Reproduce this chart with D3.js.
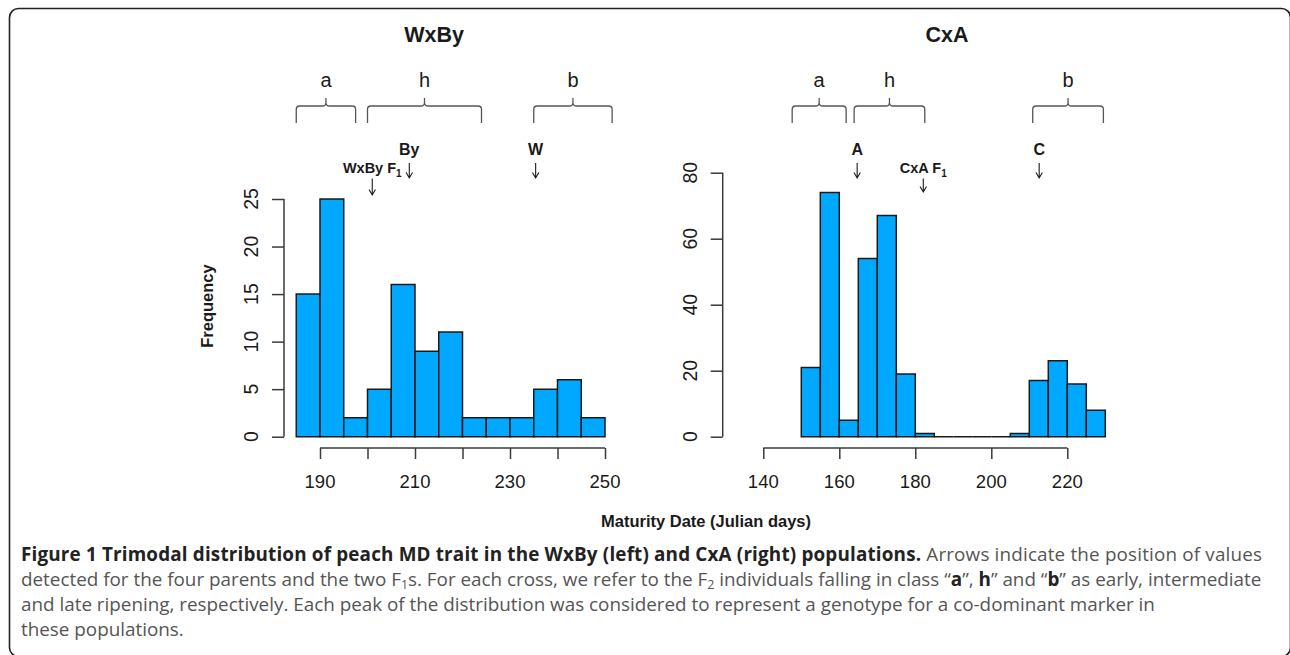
<!DOCTYPE html>
<html><head><meta charset="utf-8">
<script src="https://cdn.jsdelivr.net/npm/d3@7"></script>
<style>
html,body{margin:0;padding:0;background:#fff;}
svg{display:block;}
</style></head>
<body>
<svg id="fig" width="1290" height="655"></svg>
<script>
// ---------------- DATA ----------------
const wxbyBinStarts = [185,190,195,200,205,210,215,220,225,230,235,240,245];
const wxbyCounts    = [15,25,2,5,16,9,11,2,2,2,5,6,2];
const cxaBinStarts  = [150,155,160,165,170,175,180,185,190,195,200,205,210,215,220,225];
const cxaCounts     = [21,74,5,54,67,19,1,0,0,0,0,1,17,23,16,8];
const binWidth = 5;

const wxbyXTicks  = [190,200,210,220,230,240,250];
const wxbyXLabels = [190,210,230,250];
const cxaXTicks   = [140,160,180,200,220];
const cxaXLabels  = [140,160,180,200,220];
const wxbyYTicks  = [0,5,10,15,20,25];
const cxaYTicks   = [0,20,40,60,80];

const classLabels   = ["a","h","b"];
const wxbyClassFrom = [185,200,235];
const wxbyClassTo   = [197.5,224,251.5];
const cxaClassFrom  = [147.6,163.9,210.9];
const cxaClassTo    = [161.8,182.5,229.5];

const wxbyMarkerNames = ["WxBy F","By","W"];
const wxbyMarkerSubs  = ["1","",""];
const wxbyMarkerDays  = [201,208.8,235.4];
const wxbyMarkerIsF1  = [true,false,false];
const cxaMarkerNames  = ["A","CxA F","C"];
const cxaMarkerSubs   = ["","1",""];
const cxaMarkerDays   = [164.7,182.1,212.6];
const cxaMarkerIsF1   = [false,true,false];

const titles = ["WxBy","CxA"];
const yTitle = "Frequency";
const xTitle = "Maturity Date (Julian days)";

// ---------------- DRAW ----------------
const svg = d3.select("#fig");
const BAR = "#00a9ff", INK = "#1a1a1a", AX = "#3a3a3a", BR = "#555";
const FONT = "'Liberation Sans', Arial, sans-serif";

// frame
svg.append("rect").attr("x",9.5).attr("y",8.5).attr("width",1281).attr("height",648)
  .attr("rx",9).attr("fill","none").attr("stroke","#222").attr("stroke-width",1.6);

function panel(o){
  const g = svg.append("g");
  const x = d3.scaleLinear().domain(o.xDomain).range(o.xRange);
  const y = d3.scaleLinear().domain(o.yDomain).range(o.yRange);

  // bars
  g.selectAll("path.bar").data(o.starts).join("path").attr("class","bar")
    .attr("d",(s,i)=>{
      const x0=x(s), x1=x(s+binWidth), y0=y(0), y1=y(o.counts[i]);
      return `M${x0},${y0}V${y1}H${x1}V${y0}Z`;
    })
    .attr("fill",BAR).attr("stroke",INK).attr("stroke-width",1.5);

  // x axis
  const xa = g.append("g").attr("transform",`translate(0,${o.xAxisY})`)
    .call(d3.axisBottom(x).tickValues(o.xTicks).tickSize(11).tickSizeOuter(0).tickFormat(""));
  xa.select(".domain").attr("stroke",AX).attr("stroke-width",1.5).attr("d",`M${x(o.xTicks[0])},0H${x(o.xTicks[o.xTicks.length-1])}`);
  xa.selectAll(".tick line").attr("stroke",AX).attr("stroke-width",1.5);
  g.selectAll("text.xl").data(o.xLabels).join("text").attr("class","xl")
    .attr("x",d=>x(d)).attr("y",488).attr("text-anchor","middle")
    .attr("font-family",FONT).attr("font-size",18.5).attr("fill",INK).text(d=>d);

  // y axis
  const ya = g.append("g").attr("transform",`translate(${o.yAxisX},0)`)
    .call(d3.axisLeft(y).tickValues(o.yTicks).tickSize(12).tickSizeOuter(0).tickFormat(""));
  ya.select(".domain").attr("stroke",AX).attr("stroke-width",1.5).attr("d",`M0,${y(o.yTicks[0])}V${y(o.yTicks[o.yTicks.length-1])}`);
  ya.selectAll(".tick line").attr("stroke",AX).attr("stroke-width",1.5);
  g.selectAll("text.yl").data(o.yTicks).join("text").attr("class","yl")
    .attr("transform",d=>`translate(${o.yAxisX-33},${y(d)}) rotate(-90)`)
    .attr("text-anchor","middle").attr("dominant-baseline","central")
    .attr("font-family",FONT).attr("font-size",19.5).attr("fill",INK).text(d=>d);

  // title
  g.append("text").attr("x",o.titleX).attr("y",42).attr("text-anchor","middle")
    .attr("font-family",FONT).attr("font-weight","bold").attr("font-size",21.5).attr("fill",INK).text(o.title);

  // class brackets
  const yTop=106, yBot=123, stemTop=98, r=3.5;
  o.classFrom.forEach((f,i)=>{
    const x0=x(f), x1=x(o.classTo[i]), cx=(x0+x1)/2;
    const d = `M${x0},${yBot}V${yTop+r}Q${x0},${yTop} ${x0+r},${yTop}H${cx-r}Q${cx},${yTop} ${cx},${yTop-r}V${stemTop}`+
              `M${cx},${yTop-r}Q${cx},${yTop} ${cx+r},${yTop}H${x1-r}Q${x1},${yTop} ${x1},${yTop+r}V${yBot}`;
    g.append("path").attr("d",d).attr("fill","none").attr("stroke",BR).attr("stroke-width",1.3);
    g.append("text").attr("x",cx).attr("y",87).attr("text-anchor","middle")
      .attr("font-family",FONT).attr("font-size",20).attr("fill",INK).text(classLabels[i]);
  });

  // markers
  o.mDays.forEach((dd,i)=>{
    const mx = x(dd);
    const f1 = o.mF1[i];
    const ty = f1 ? 172.5 : 155;
    const a0 = f1 ? 178.5 : 163, a1 = f1 ? o.f1ArrowEnd : 178;
    const t = g.append("text").attr("x",mx).attr("y",ty).attr("text-anchor","middle")
      .attr("font-family",FONT).attr("font-weight","bold").attr("font-size",f1?14.5:16).attr("fill",INK);
    t.append("tspan").text(o.mNames[i]);
    if(o.mSubs[i]){
      t.append("tspan").attr("dy",4).attr("font-size",10).text(o.mSubs[i]);
    }
    g.append("path").attr("d",`M${mx},${a0}V${a1}M${mx-3.2},${a1-5.5}L${mx},${a1}L${mx+3.2},${a1-5.5}`)
      .attr("fill","none").attr("stroke",INK).attr("stroke-width",1.1);
  });
}

panel({
  xDomain:[190,250], xRange:[320,605], yDomain:[0,25], yRange:[436.7,199],
  starts:wxbyBinStarts, counts:wxbyCounts, xTicks:wxbyXTicks, xLabels:wxbyXLabels, yTicks:wxbyYTicks,
  xAxisY:448, yAxisX:284, title:titles[0], titleX:434,
  classFrom:wxbyClassFrom, classTo:wxbyClassTo,
  mDays:wxbyMarkerDays, mNames:wxbyMarkerNames, mSubs:wxbyMarkerSubs, mF1:wxbyMarkerIsF1, f1ArrowEnd:195
});
panel({
  xDomain:[140,220], xRange:[763.3,1067.3], yDomain:[0,80], yRange:[436.7,172.7],
  starts:cxaBinStarts, counts:cxaCounts, xTicks:cxaXTicks, xLabels:cxaXLabels, yTicks:cxaYTicks,
  xAxisY:448, yAxisX:722.7, title:titles[1], titleX:947,
  classFrom:cxaClassFrom, classTo:cxaClassTo,
  mDays:cxaMarkerDays, mNames:cxaMarkerNames, mSubs:cxaMarkerSubs, mF1:cxaMarkerIsF1, f1ArrowEnd:192
});

// axis titles
svg.append("text").attr("transform","translate(206.5,306) rotate(-90)").attr("text-anchor","middle")
  .attr("dominant-baseline","central").attr("font-family",FONT).attr("font-weight","bold")
  .attr("font-size",16.5).attr("fill",INK).text(yTitle);
svg.append("text").attr("x",706).attr("y",527).attr("text-anchor","middle")
  .attr("font-family",FONT).attr("font-weight","bold").attr("font-size",16.5).attr("fill",INK).text(xTitle);

// ---------------- CAPTION ----------------
const captionLines = [
  [ {t:"Figure 1 Trimodal distribution of peach MD trait in the WxBy (left) and CxA (right) populations.", b:1},
    {t:" Arrows indicate the position of values"} ],
  [ {t:"detected for the four parents and the two F"}, {t:"1", sub:1}, {t:"s. For each cross, we refer to the F"}, {t:"2", sub:1},
    {t:" individuals falling in class “"}, {t:"a", b:1}, {t:"”, "}, {t:"h", b:1}, {t:"” and “"}, {t:"b", b:1}, {t:"” as early, intermediate"} ],
  [ {t:"and late ripening, respectively. Each peak of the distribution was considered to represent a genotype for a co-dominant marker in"} ],
  [ {t:"these populations."} ]
];
const capX = 21, capY0 = 561, capDY = 25, capFont = "'Open Sans', 'Noto Sans', sans-serif";
const capG = svg.append("g");
function drawCaption(fs){
  capG.selectAll("*").remove();
  const nodes=[];
  captionLines.forEach((segs,li)=>{
    const t = capG.append("text").attr("x",capX).attr("y",capY0+li*capDY)
      .attr("font-family",capFont).attr("font-size",fs).attr("fill","#555");
    let shifted=false;
    segs.forEach(s=>{
      const sp = t.append("tspan").text(s.t);
      if(s.b) sp.attr("font-weight","bold").attr("fill","#222");
      if(s.sub){ sp.attr("font-size",fs*0.66).attr("dy",fs*0.14); shifted=true; }
      else if(shifted){ sp.attr("dy",-fs*0.14); shifted=false; }
    });
    nodes.push(t.node());
  });
  return nodes;
}
let nodes = drawCaption(16);
const w2 = nodes[1].getComputedTextLength();
const fs = 16*1241/w2;
nodes = drawCaption(fs);
// justify first line like the reference (it ends at the same right margin)
const w1 = nodes[0].getComputedTextLength();
if (w1 < 1241) d3.select(nodes[0]).attr("textLength",1241).attr("lengthAdjust","spacing");
</script>
</body></html>
